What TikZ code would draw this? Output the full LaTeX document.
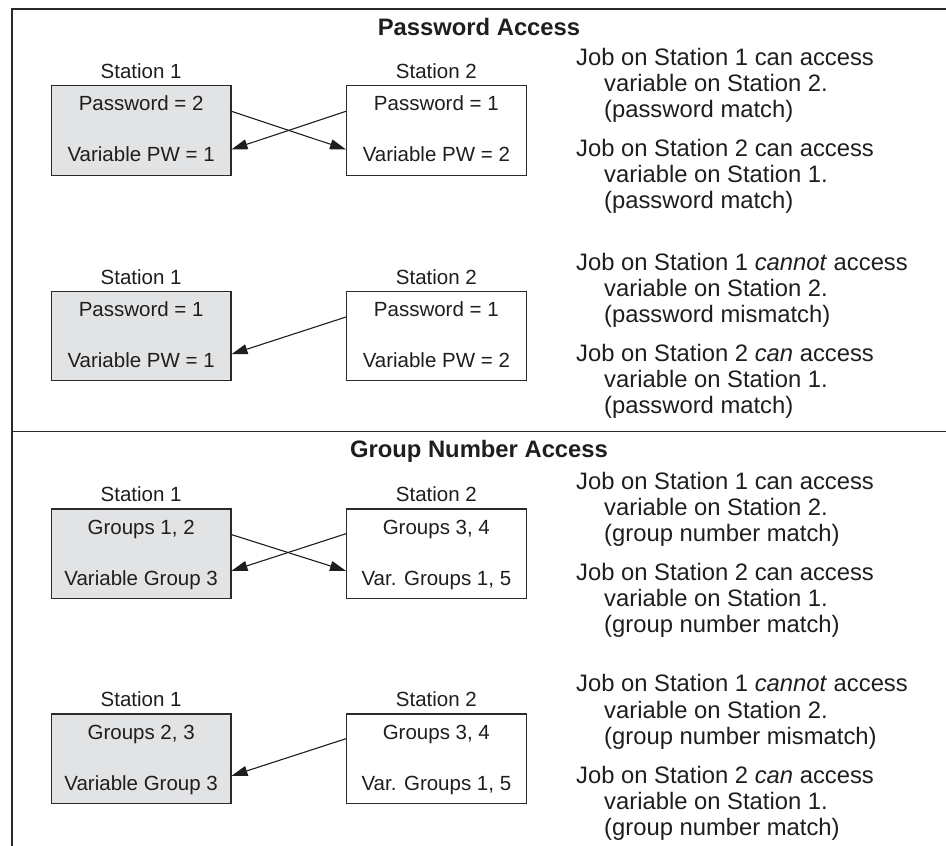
\documentclass[tikz,border=0pt]{standalone}
\usepackage{fontspec}
\setmainfont{Liberation Sans}
\usetikzlibrary{arrows.meta,calc}
\definecolor{ink}{HTML}{1E1E1E}
\definecolor{rule}{HTML}{2A2A2A}
\definecolor{panel}{HTML}{E2E3E5}
\newcommand\boxfont{\fontsize{20.5}{24}\selectfont}
\newcommand\notefont{\fontsize{23.8}{26.2}\selectfont}

% Two station boxes with their captions and two lines of settings each
% #1 name prefix, #2 top edge, #3/#4 Station 1 lines, #5/#6 Station 2 lines
\newcommand\stationpair[6]{%
  \node[shaded] (#1l) at (50.8,#2) {};
  \node[plain] (#1r) at (346,#2) {};
  \node[boxtext] (#1lcap) at ($(#1l.north)+(0,-6.7)$) {Station 1};
  \node[boxtext] (#1rcap) at ($(#1r.north)+(0,-6.7)$) {Station 2};
  \node[boxtext] (#1la) at ($(#1l.north)+(0,25.7)$) {#3};
  \node[boxtext] (#1lb) at ($(#1l.north)+(0,76.7)$) {#4};
  \node[boxtext] (#1ra) at ($(#1r.north)+(0,25.7)$) {#5};
  \node[boxtext] (#1rb) at ($(#1r.north)+(0,76.7)$) {#6};
}
% Three-line explanation with hanging indent
% #1 name, #2 first baseline, #3-#5 lines
\newcommand\noteblock[5]{%
  \node[note] (#1a) at (576,#2) {#3};
  \node[note] (#1b) at (604,{#2+26.2}) {#4};
  \node[note] (#1c) at (604,{#2+52.4}) {#5};
}

\begin{document}
\begin{tikzpicture}[x=1pt,y=-1pt,
  stationbox/.style={draw=rule, line width=1.2pt, minimum width=179.5pt,
    minimum height=89.5pt, anchor=north west, inner sep=0pt},
  shaded/.style={stationbox, fill=panel},
  plain/.style={stationbox, fill=white},
  boxtext/.style={font=\boxfont, text=ink, anchor=base, inner sep=0pt},
  note/.style={font=\notefont, text=ink, anchor=base west, inner sep=0pt},
  heading/.style={font=\notefont\bfseries, text=ink, anchor=base, inner sep=0pt},
  link/.style={draw=ink, line width=1.1pt, -{Triangle[length=16pt,width=10pt]}},
  frameline/.style={draw=rule, line width=2pt},
  divider/.style={draw=rule, line width=1.3pt}]

\useasboundingbox (0,0) rectangle (946,846);

% outer frame and section divider
\draw[frameline] (12,846) -- (12,9.3) -- (946,9.3);
\draw[divider] (12,431.5) -- (946,431.5);

% ---------------- Password Access ----------------
\node[heading] (pwtitle) at (479,35) {Password Access};

\stationpair{pwa}{85}{Password = 2}{Variable PW = 1}{Password = 1}{Variable PW = 2}
\draw[link] ($(pwal.north east)!0.29!(pwal.south east)$) -- ($(pwar.north west)!0.71!(pwar.south west)$);
\draw[link] ($(pwar.north west)!0.29!(pwar.south west)$) -- ($(pwal.north east)!0.71!(pwal.south east)$);

\noteblock{pwn1}{65.5}{Job on Station 1 can access}{variable on Station 2.}{(password match)}
\noteblock{pwn2}{156.5}{Job on Station 2 can access}{variable on Station 1.}{(password match)}

\stationpair{pwb}{290.7}{Password = 1}{Variable PW = 1}{Password = 1}{Variable PW = 2}
\draw[link] ($(pwbr.north west)!0.29!(pwbr.south west)$) -- ($(pwbl.north east)!0.70!(pwbl.south east)$);

\noteblock{pwn3}{270.5}{Job on Station 1 \textit{cannot} access}{variable on Station 2.}{(password mismatch)}
\noteblock{pwn4}{361}{Job on Station 2 \textit{can} access}{variable on Station 1.}{(password match)}

% ---------------- Group Number Access ----------------
\node[heading] (grtitle) at (479,457.5) {Group Number Access};

\stationpair{gra}{508.3}{Groups 1, 2}{Variable Group 3}{Groups 3, 4}{Var. Groups 1, 5}
\draw[link] ($(gral.north east)!0.29!(gral.south east)$) -- ($(grar.north west)!0.69!(grar.south west)$);
\draw[link] ($(grar.north west)!0.28!(grar.south west)$) -- ($(gral.north east)!0.69!(gral.south east)$);

\noteblock{grn1}{489.5}{Job on Station 1 can access}{variable on Station 2.}{(group number match)}
\noteblock{grn2}{580}{Job on Station 2 can access}{variable on Station 1.}{(group number match)}

\stationpair{grb}{713.3}{Groups 2, 3}{Variable Group 3}{Groups 3, 4}{Var. Groups 1, 5}
\draw[link] ($(grbr.north west)!0.28!(grbr.south west)$) -- ($(grbl.north east)!0.69!(grbl.south east)$);

\noteblock{grn3}{691.8}{Job on Station 1 \textit{cannot} access}{variable on Station 2.}{(group number mismatch)}
\noteblock{grn4}{783}{Job on Station 2 \textit{can} access}{variable on Station 1.}{(group number match)}

\end{tikzpicture}
\end{document}
